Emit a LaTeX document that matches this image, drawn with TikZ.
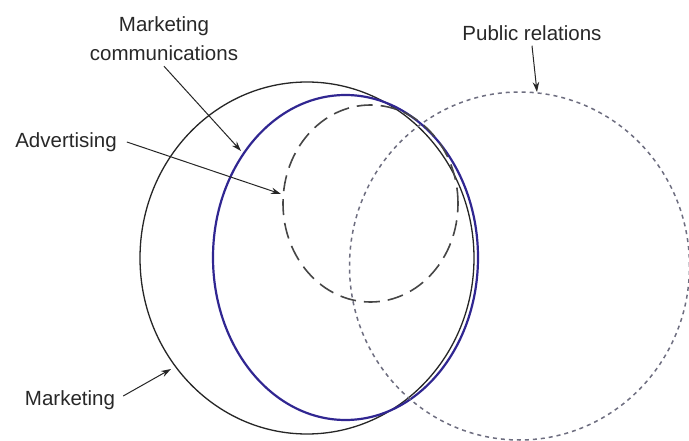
\documentclass[tikz,border=0pt]{standalone}
\usepackage{fontspec}
\setmainfont{Liberation Sans}
\usetikzlibrary{arrows.meta}

\definecolor{mktblue}{RGB}{48,38,145}
\definecolor{prgray}{RGB}{110,110,128}
\definecolor{advgray}{RGB}{70,70,70}
\definecolor{txtgray}{RGB}{40,40,40}

\tikzset{
  label/.style={text=txtgray,font=\fontsize{20.5}{29}\selectfont,inner sep=2pt},
  pointer/.style={-{Stealth[length=10pt,width=6.5pt]},line width=1pt,draw=black!85}
}

\begin{document}
\begin{tikzpicture}[x=1pt,y=-1pt]

% white page of the same size as the reference
\useasboundingbox [fill=white] (0,0) rectangle (689,441);

% marketing (plain black ellipse)
\draw[line width=1.3pt,black!85] (307,258) ellipse [x radius=167pt, y radius=176pt];

% marketing communications (blue)
\draw[line width=2.2pt,mktblue] (345.5,257.5) ellipse [x radius=132.5pt, y radius=162.5pt];

% advertising (long dashes)
\draw[line width=1.6pt,advgray,dash pattern=on 16pt off 8pt] (370.5,203.5) ellipse [x radius=87.5pt, y radius=98.5pt];

% public relations (short dashes)
\draw[line width=1.5pt,prgray,dash pattern=on 4pt off 4pt] (519.5,266) ellipse [x radius=170pt, y radius=174pt];

% where the arrows end
\coordinate (mktcommtip) at (241,151);
\coordinate (advtip) at (281,194);
\coordinate (pubreltip) at (537,92);
\coordinate (mkttip) at (171,369);

% labels
\node[label,align=center] (mktcomm) at (164,39) {Marketing\\communications};
\node[label] (adv) at (66,142) {Advertising};
\node[label] (pubrel) at (532,33) {Public relations};
\node[label] (mkt) at (70,400) {Marketing};

% arrows
\draw[pointer] (mktcomm.south) ++(0,3) -- (mktcommtip);
\draw[pointer] (adv.east) ++(8,0) -- (advtip);
\draw[pointer] (pubrel.south) ++(0,3) -- (pubreltip);
\draw[pointer] (mkt.east) ++(6,-4) -- (mkttip);

\end{tikzpicture}
\end{document}
